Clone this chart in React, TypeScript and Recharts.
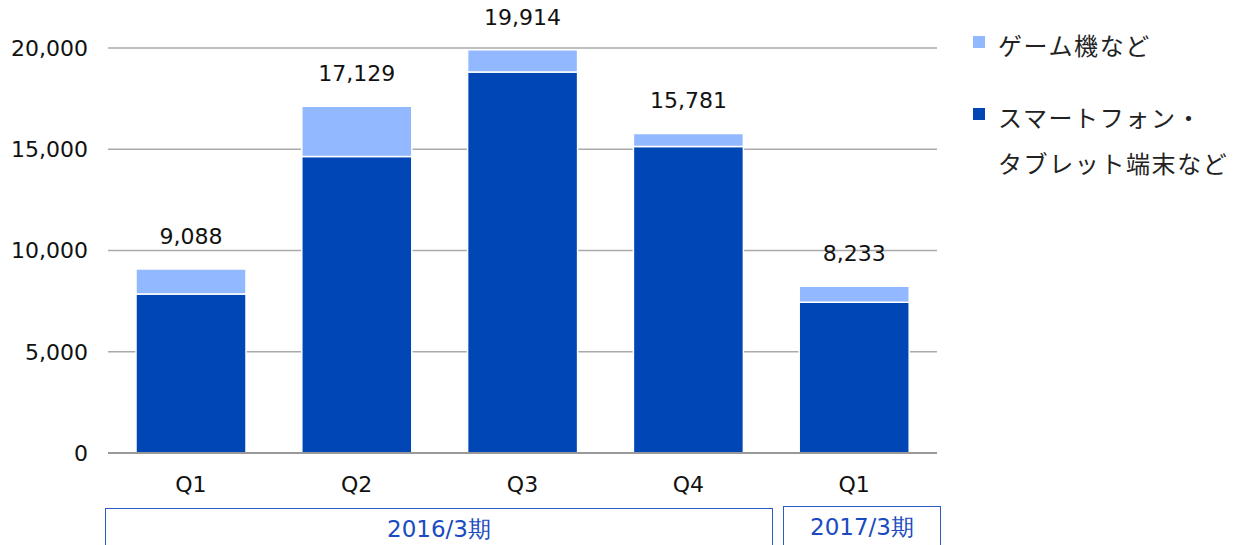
import React from "react";
import { Bar, BarChart, CartesianGrid, LabelList, XAxis, YAxis } from "recharts";

const keys = ["2016-Q1", "2016-Q2", "2016-Q3", "2016-Q4", "2017-Q1"];
const quarterLabels = ["Q1", "Q2", "Q3", "Q4", "Q1"];
const smartphone = [7850, 14640, 18815, 15135, 7442];
const gameConsole = [1238, 2489, 1099, 646, 791];
const totals = [9088, 17129, 19914, 15781, 8233];
const yTicks = [0, 5000, 10000, 15000, 20000];
const seriesNames = ["ゲーム機など", "スマートフォン・\nタブレット端末など"];
const periods = [
    { label: "2016/3期", left: 105, width: 668, top: 508 },
    { label: "2017/3期", left: 783, width: 158, top: 506 },
];

const data = keys.map((k, i) => ({
    key: k,
    q: quarterLabels[i],
    phone: smartphone[i],
    game: gameConsole[i],
    total: totals[i],
}));

const DARK = "#0047b5";
const LIGHT = "#92b9ff";
const AXIS_FONT = "'DejaVu Sans', Verdana, sans-serif";
const JP_FONT = "'Noto Sans CJK JP', sans-serif";

const fmt = (v: number) => v.toLocaleString("en-US");

function LegendBox() {
    const items = [
        { color: LIGHT, text: seriesNames[0] },
        { color: DARK, text: seriesNames[1] },
    ];
    return (
        <div style={{ position: "absolute", left: 973, top: 22, fontFamily: JP_FONT, fontSize: 24, color: "#222", letterSpacing: 1.6 }}>
            {items.map((it, i) => (
                <div key={i} style={{ display: "flex", alignItems: "flex-start", marginBottom: 26 }}>
                    <div style={{ width: 12, height: 12, background: it.color, marginTop: 14, marginRight: 13 }} />
                    <div style={{ lineHeight: "46px", whiteSpace: "pre" }}>{it.text}</div>
                </div>
            ))}
        </div>
    );
}

export default function App() {
    return (
        <div style={{ position: "absolute", top: 0, left: 0, width: 1236, height: 545, overflow: "hidden", background: "#fff" }}>
            <BarChart width={1236} height={545} data={data} margin={{ top: 48, right: 299, left: 0, bottom: 62 }}>
                <CartesianGrid stroke="#aaaaaa" strokeWidth={1.5} vertical={false} />
                <XAxis
                    dataKey="key"
                    height={30}
                    tickFormatter={(v, i) => quarterLabels[i]}
                    tickLine={false}
                    tickSize={0}
                    tickMargin={23}
                    axisLine={{ stroke: "#999999", strokeWidth: 2 }}
                    tick={{ fontSize: 22, fill: "#111", fontFamily: AXIS_FONT }}
                    interval={0}
                />
                <YAxis
                    width={108}
                    domain={[0, 20000]}
                    ticks={yTicks}
                    tickFormatter={fmt}
                    tickLine={false}
                    axisLine={false}
                    tickSize={0}
                    tickMargin={20}
                    tick={{ fontSize: 22, fill: "#111", fontFamily: AXIS_FONT }}
                />
                <Bar dataKey="phone" stackId="a" fill={DARK} stroke="#ffffff" strokeWidth={1.5} barSize={110} isAnimationActive={false} />
                <Bar dataKey="game" stackId="a" fill={LIGHT} stroke="#ffffff" strokeWidth={1.5} barSize={110} isAnimationActive={false}>
                    <LabelList
                        dataKey="total"
                        position="top"
                        offset={25}
                        formatter={(v: any) => fmt(Number(v))}
                        style={{ fontSize: 22, fill: "#111", fontFamily: AXIS_FONT }}
                    />
                </Bar>
            </BarChart>
            <LegendBox />
            {periods.map((p) => (
                <div
                    key={p.label}
                    style={{
                        position: "absolute",
                        left: p.left,
                        top: p.top,
                        width: p.width,
                        height: 60,
                        border: "1.5px solid #2a5cc4",
                        boxSizing: "border-box",
                        textAlign: "center",
                        color: "#1a4bbf",
                        fontFamily: AXIS_FONT,
                        fontSize: 23,
                        lineHeight: "40px",
                    }}
                >
                    {p.label}
                </div>
            ))}
        </div>
    );
}
